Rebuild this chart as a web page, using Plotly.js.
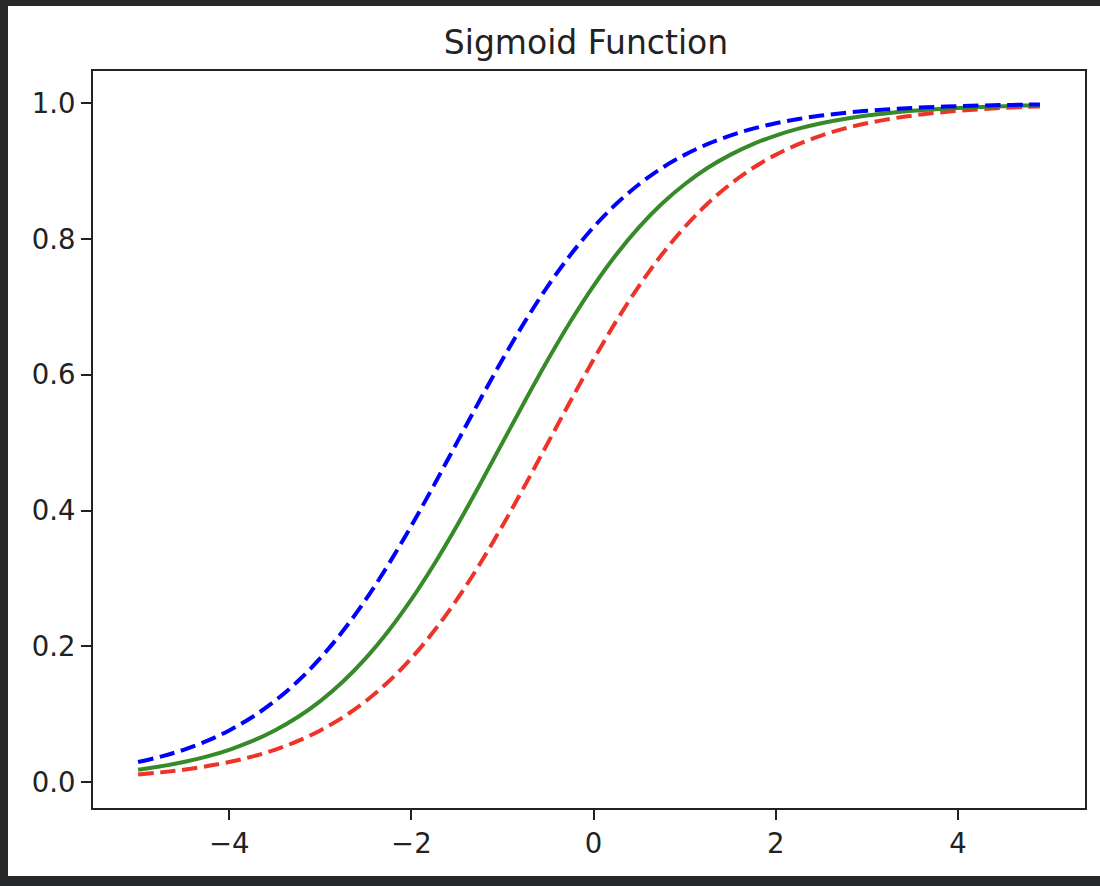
<!DOCTYPE html>
<html>
<head>
<meta charset="utf-8">
<script src="https://cdn.plot.ly/plotly-3.0.1.min.js"></script>
<style>
  html, body { margin: 0; padding: 0; background: #27282a; width: 1100px; height: 886px; overflow: hidden; }
  #frame { position: absolute; left: 8px; top: 6px; width: 1092px; height: 870px; background: #ffffff; }
  #chart { width: 1092px; height: 870px; }
</style>
</head>
<body>
<div id="frame"><div id="chart"></div></div>
<script>
// x samples
const xValues = [-5,-4.75,-4.5,-4.25,-4,-3.75,-3.5,-3.25,-3,-2.75,-2.5,-2.25,-2,-1.75,-1.5,-1.25,-1,-0.75,-0.5,-0.25,0,0.25,0.5,0.75,1,1.25,1.5,1.75,2,2.25,2.5,2.75,3,3.25,3.5,3.75,4,4.25,4.5,4.75,4.9];

// red dashed curve
const redValues = [0.0110,0.0141,0.0180,0.0230,0.0293,0.0373,0.0474,0.0601,0.0759,0.0953,0.1192,0.1480,0.1824,0.2227,0.2689,0.3208,0.3775,0.4378,0.5,0.5622,0.6225,0.6792,0.7311,0.7773,0.8176,0.8520,0.8808,0.9047,0.9241,0.9399,0.9526,0.9627,0.9707,0.9770,0.9820,0.9859,0.9890,0.9914,0.9933,0.9948,0.9955];

// green solid curve
const greenValues = [0.0180,0.0230,0.0293,0.0373,0.0474,0.0601,0.0759,0.0953,0.1192,0.1480,0.1824,0.2227,0.2689,0.3208,0.3775,0.4378,0.5,0.5622,0.6225,0.6792,0.7311,0.7773,0.8176,0.8520,0.8808,0.9047,0.9241,0.9399,0.9526,0.9627,0.9707,0.9770,0.9820,0.9859,0.9890,0.9914,0.9933,0.9948,0.9959,0.9968,0.9973];

// blue dashed curve
const blueValues = [0.0293,0.0373,0.0474,0.0601,0.0759,0.0953,0.1192,0.1480,0.1824,0.2227,0.2689,0.3208,0.3775,0.4378,0.5,0.5622,0.6225,0.6792,0.7311,0.7773,0.8176,0.8520,0.8808,0.9047,0.9241,0.9399,0.9526,0.9627,0.9707,0.9770,0.9820,0.9859,0.9890,0.9914,0.9933,0.9948,0.9959,0.9968,0.9975,0.9981,0.9983];

// tick labels
const xTickVals = [-4, -2, 0, 2, 4];
const xTickText = ['\u22124', '\u22122', '0', '2', '4'];
const yTickVals = [0.0, 0.2, 0.4, 0.6, 0.8, 1.0];
const yTickText = ['0.0', '0.2', '0.4', '0.6', '0.8', '1.0'];

const chartTitle = 'Sigmoid Function';

const lw = 4;
const dashPat = '15.4px,6.7px';

const traces = [
  { x: xValues, y: redValues, mode: 'lines', line: { color: '#ee3328', width: lw, dash: dashPat, shape: 'spline' }, hoverinfo: 'skip' },
  { x: xValues, y: greenValues, mode: 'lines', line: { color: '#368a28', width: lw, shape: 'spline' }, hoverinfo: 'skip' },
  { x: xValues, y: blueValues, mode: 'lines', line: { color: '#0000ff', width: lw, dash: dashPat, shape: 'spline' }, hoverinfo: 'skip' }
];

const tickFont = { family: 'DejaVu Sans', size: 27.5, color: '#222222' };

const layout = {
  width: 1092,
  height: 870,
  paper_bgcolor: '#ffffff',
  plot_bgcolor: '#ffffff',
  showlegend: false,
  margin: { l: 85, r: 15, t: 65, b: 68, pad: 0 },
  title: {
    text: chartTitle,
    font: { family: 'DejaVu Sans', size: 33, color: '#222222' },
    x: 0.5293, xref: 'container', xanchor: 'center',
    y: 0.958, yref: 'container', yanchor: 'middle'
  },
  xaxis: {
    range: [-5.495, 5.395],
    tickvals: xTickVals,
    ticktext: xTickText,
    ticks: 'outside', ticklen: 10, tickwidth: 2, tickcolor: '#222222',
    showline: true, linecolor: '#222222', linewidth: 2, mirror: true,
    showgrid: false, zeroline: false,
    tickfont: tickFont,
    fixedrange: true
  },
  yaxis: {
    range: [-0.0384, 1.0477],
    tickvals: yTickVals,
    ticktext: yTickText,
    ticks: 'outside', ticklen: 10, tickwidth: 2, tickcolor: '#222222',
    showline: true, linecolor: '#222222', linewidth: 2, mirror: true,
    showgrid: false, zeroline: false,
    tickfont: tickFont,
    fixedrange: true
  }
};

Plotly.newPlot('chart', traces, layout, { displayModeBar: false, staticPlot: true });
</script>
</body>
</html>
